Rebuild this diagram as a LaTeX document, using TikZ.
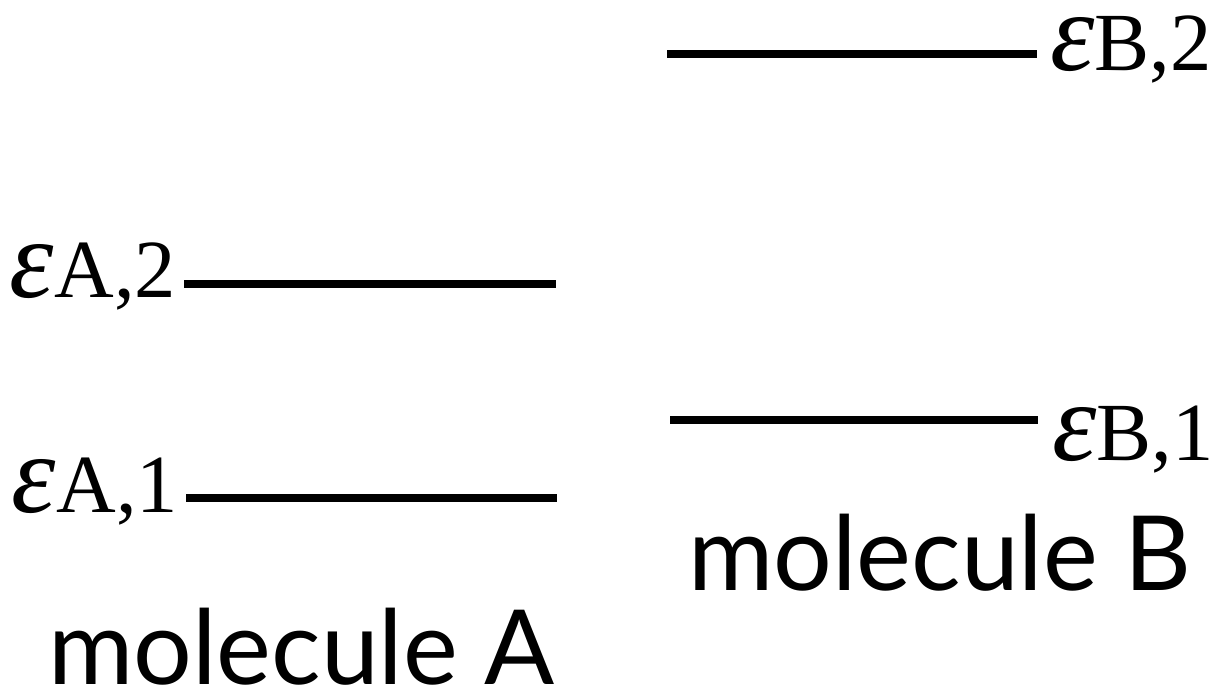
\documentclass[tikz,border=0pt]{standalone}
\usepackage{fontspec}
\setmainfont{Liberation Serif}
\newfontfamily\captionsans{Lato}
\tikzset{
  x=0.01cm, y=-0.01cm,
  level/.style={line width=2.2pt, line cap=butt},
  enlabel/.style={inner sep=0pt, outer sep=0pt},
  molname/.style={inner sep=0pt, outer sep=0pt, font=\captionsans\fontsize{29.5}{29.5}\selectfont},
}
% energy label: italic epsilon with an upright index on the same baseline
\newcommand\elabel[1]{{\fontsize{32}{32}\selectfont\itshape ε}{\fontsize{23.5}{23.5}\selectfont #1}}
\begin{document}
\begin{tikzpicture}
\useasboundingbox (0,0) rectangle (1222,697);

% molecule A levels
\coordinate (a2l) at (184,284); \coordinate (a2r) at (556,284);
\coordinate (a1l) at (186,498); \coordinate (a1r) at (557,498);
% molecule B levels
\coordinate (b2l) at (667,54);  \coordinate (b2r) at (1037,54);
\coordinate (b1l) at (670,420); \coordinate (b1r) at (1038,420);

\draw[level] (a2l) -- (a2r);
\draw[level] (a1l) -- (a1r);
\draw[level] (b2l) -- (b2r);
\draw[level] (b1l) -- (b1r);

\node[enlabel, anchor=base east] (ea2) at (176,297) {\elabel{A,2}};
\node[enlabel, anchor=base east] (ea1) at (178,512) {\elabel{A,1}};
\node[enlabel, anchor=base west] (eb2) at (1050,70) {\elabel{B,2}};
\node[enlabel, anchor=base west] (eb1) at (1052,460) {\elabel{B,1}};

\node[molname, anchor=base west] (molB) at (688,590) {molecule B};
\node[molname, anchor=base west] (molA) at (48,684) {molecule A};
\end{tikzpicture}
\end{document}
